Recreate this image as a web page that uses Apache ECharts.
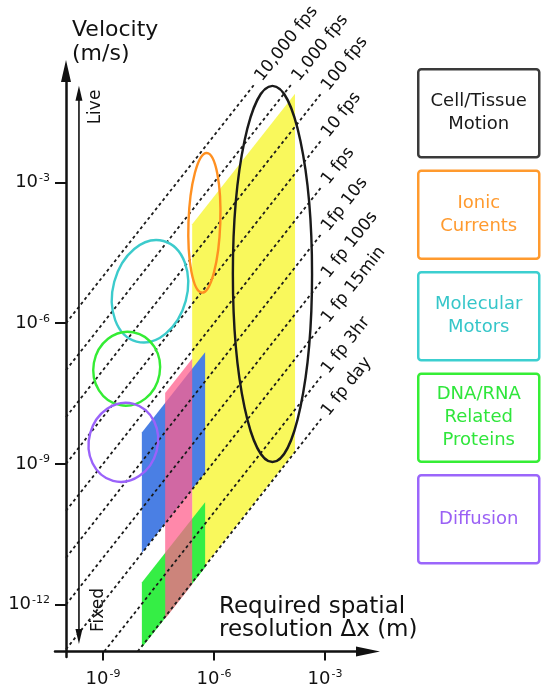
<!DOCTYPE html>
<html><head><meta charset="utf-8">
<script src="https://cdn.jsdelivr.net/npm/echarts@6/dist/echarts.min.js"></script>
<style>html,body{margin:0;padding:0;background:#fff}#c{width:541px;height:691px}</style>
</head><body><div id="c"></div>
<script>
// ---------- data (log10 values) ----------
// axis ticks (log10)
const xTickExps = [-9, -6, -3];          // required spatial resolution, log10(m)
const yTickExps = [-12, -9, -6, -3];     // velocity, log10(m/s)

// frame-rate guide lines: velocity = resolution x frame rate
const rateLabels = ['10,000 fps', '1,000 fps', '100 fps', '10 fps', '1 fps',
  '1fp 10s', '1 fp 100s', '1 fp 15min', '1 fp 3hr', '1 fp day'];
const rateFps = [10000, 1000, 100, 10, 1, 0.1, 0.01, 0.001111, 0.0000926, 0.00001157];

// shaded technique regions: resolution range (log10 m) x frame-rate range (log10 fps)
const regionNames = ['yellow', 'blue', 'green', 'pink'];
const regionColors = ['#f9f85c', '#4a7fe4', '#35ee45', 'rgba(255,96,141,0.75)'];
const regionResMin = [-6.59, -7.95, -7.95, -7.32];
const regionResMax = [-3.81, -6.24, -6.24, -6.59];
const regionRateMin = [-4.92, -2.95, -4.97, -4.98];
const regionRateMax = [2.70, -0.38, -3.58, -0.17];

// biological processes (ellipses): centre (log10 m, log10 m/s), half-spans (decades), tilt (deg clockwise)
const processNames = ['Cell/Tissue\nMotion', 'Ionic\nCurrents', 'Molecular\nMotors', 'DNA/RNA\nRelated\nProteins', 'Diffusion'];
const processColors = ['#1a1a1a', '#ff9021', '#3ccbcc', '#34ec34', '#9a62fa'];
const processTextColors = ['#1a1a1a', '#ff9a2e', '#35c6c9', '#2fe63b', '#9a60f5'];
const processBoxColors = ['#3a3a3a', '#ff9a2e', '#3ccfd0', '#35ee35', '#9b66fb'];
const processResCenter = [-4.42, -6.26, -7.73, -8.36, -8.45];
const processVelCenter = [-4.95, -3.86, -5.32, -6.97, -8.54];
const processResSpan = [1.07, 0.43, 1.0, 0.90, 0.93];
const processVelSpan = [4.01, 1.49, 1.11, 0.79, 0.85];
const processTilt = [0, 2, 15, 10, 15];

// ---------- layout ----------
const RES0 = -10, VEL0 = -13;          // origin of the plot (log10)
const LINE_END_RES = -3.1, LINE_END_VEL = -0.9;
const FONT = '"DejaVu Sans", Verdana, sans-serif';

const chart = echarts.init(document.getElementById('c'), null, {renderer: 'canvas'});

const tickLabel = (off) => ({
  formatter: v => '{b|10}{s|' + Math.round(v + off) + '}',
  color: '#111',
  fontSize: 18,
  fontFamily: FONT,
  rich: {
    b: {fontSize: 18, lineHeight: 20, fontFamily: FONT, color: '#111', verticalAlign: 'middle'},
    s: {fontSize: 11, lineHeight: 11, fontFamily: FONT, color: '#111', verticalAlign: 'top', padding: [0, 0, 0, 1]}
  }
});

const xLabel = tickLabel(RES0); xLabel.customValues = xTickExps.map(e => e - RES0); xLabel.margin = 12;
const yLabel = tickLabel(VEL0); yLabel.customValues = yTickExps.map(e => e - VEL0); yLabel.margin = 5;

const option = {
  animation: false,
  backgroundColor: '#fff',
  grid: {left: 55, right: 173, top: 71, bottom: 34, containLabel: false, outerBoundsMode: 'none'},
  xAxis: {
    type: 'value', min: -11 / 37, max: 302 / 37,
    axisLine: {onZero: true, symbol: ['none', 'triangle'], symbolSize: [10, 24], lineStyle: {color: '#111', width: 2.5}},
    axisTick: {customValues: xTickExps.map(e => e - RES0), length: 9, lineStyle: {color: '#111', width: 2}},
    axisLabel: xLabel,
    splitLine: {show: false}
  },
  yAxis: {
    type: 'value', min: -0.117, max: 12.377,
    axisLine: {onZero: true, symbol: ['none', 'triangle'], symbolSize: [10, 22], lineStyle: {color: '#111', width: 2.5}},
    axisTick: {customValues: yTickExps.map(e => e - VEL0), length: 11, lineStyle: {color: '#111', width: 2}},
    axisLabel: yLabel,
    splitLine: {show: false}
  },
  series: [
    {
      name: 'regions', type: 'custom', z: 1, silent: true,
      data: regionNames.map((n, i) => ({name: n, value: [regionResMin[i], regionResMax[i], regionRateMin[i], regionRateMax[i]]})),
      renderItem: (params, api) => {
        const a = api.value(0), b = api.value(1), lo = api.value(2), hi = api.value(3);
        const pts = [[a, a + lo], [b, b + lo], [b, b + hi], [a, a + hi]].map(p => api.coord([p[0] - RES0, p[1] - VEL0]));
        return {type: 'polygon', shape: {points: pts}, style: {fill: regionColors[params.dataIndex]}};
      }
    },
    {
      name: 'frame rates', type: 'custom', z: 2, silent: true,
      data: rateFps.map((f, i) => ({name: rateLabels[i], value: [Math.log10(f), 0]})),
      renderItem: (params, api) => {
        const d = api.value(0);
        let sx = RES0, sv = sx + d;
        if (sv < VEL0) { sv = VEL0; sx = sv - d; }
        const ex = Math.min(LINE_END_RES, LINE_END_VEL - d), ev = ex + d;
        const p1 = api.coord([sx - RES0, sv - VEL0]);
        const p2 = api.coord([ex - RES0, ev - VEL0]);
        const ang = Math.atan2(p1[1] - p2[1], p2[0] - p1[0]);
        const gap = 6;
        return {type: 'group', children: [
          {type: 'line', shape: {x1: p1[0], y1: p1[1], x2: p2[0], y2: p2[1]},
           style: {stroke: '#1a1a1a', lineWidth: 1.8, lineDash: [3, 3]}},
          {type: 'text', x: p2[0] + gap * Math.cos(ang), y: p2[1] - gap * Math.sin(ang), rotation: ang,
           style: {text: rateLabels[params.dataIndex], fontSize: 17, fontFamily: FONT, fill: '#111', align: 'left', verticalAlign: 'middle'}}
        ]};
      }
    },
    {
      name: 'processes', type: 'custom', z: 3, silent: true,
      data: processNames.map((n, i) => ({name: n, value: [processResCenter[i], processVelCenter[i], processResSpan[i], processVelSpan[i], processTilt[i]]})),
      renderItem: (params, api) => {
        const c = api.coord([api.value(0) - RES0, api.value(1) - VEL0]);
        const s = api.size([api.value(2), api.value(3)]);
        return {type: 'ellipse', x: c[0], y: c[1], rotation: -api.value(4) * Math.PI / 180,
          shape: {cx: 0, cy: 0, rx: s[0], ry: s[1]},
          style: {fill: 'none', stroke: processColors[params.dataIndex], lineWidth: 2.4}};
      }
    },
    {
      name: 'Live / Fixed', type: 'line', z: 3, silent: true,
      data: [
        {value: [-9.65 - RES0, -1.1 - VEL0], symbolRotate: 0},
        {value: [-9.65 - RES0, -12.68 - VEL0], symbolRotate: 180}
      ],
      symbol: 'triangle', symbolSize: [7, 15], showSymbol: true,
      itemStyle: {color: '#111'},
      lineStyle: {color: '#111', width: 1.6}
    }
  ],
  graphic: [
    {type: 'text', left: 72, top: 18, style: {text: 'Velocity\n(m/s)', fontSize: 22, lineHeight: 24, fontFamily: FONT, fill: '#111'}},
    {type: 'text', left: 219, top: 596, style: {text: 'Required spatial\nresolution \u0394x (m)', fontSize: 23, lineHeight: 23, fontFamily: FONT, fill: '#111'}},
    {type: 'text', x: 96, y: 107, rotation: Math.PI / 2, style: {text: 'Live', fontSize: 17, fontFamily: FONT, fill: '#111', align: 'center', verticalAlign: 'middle'}},
    {type: 'text', x: 99, y: 610, rotation: Math.PI / 2, style: {text: 'Fixed', fontSize: 17, fontFamily: FONT, fill: '#111', align: 'center', verticalAlign: 'middle'}}
  ].concat(processNames.map((n, i) => ({
    type: 'group', left: 417, top: 68 + i * 101.5,
    children: [
      {type: 'rect', shape: {x: 0, y: 0, width: 121, height: 88, r: 3}, style: {fill: '#fff', stroke: processBoxColors[i], lineWidth: 2.5}},
      {type: 'text', x: 60.5, y: 44, style: {text: n, fontSize: 18, lineHeight: 23, fontFamily: FONT, fill: processTextColors[i], align: 'center', verticalAlign: 'middle'}}
    ]
  })))
};
chart.setOption(option);
</script></body></html>
